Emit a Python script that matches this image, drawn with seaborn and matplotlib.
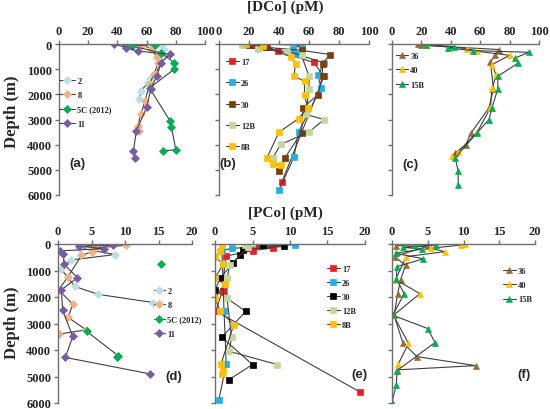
import matplotlib
matplotlib.use("Agg")
import numpy as np
import seaborn as sns
import matplotlib.pyplot as plt

# ---- data: [DCo] (pM) profiles, top row -----------------------------------
a_2_x = [70, 72, 71, 70, 66, 62, 61, 56, 55]
a_2_z = [50, 200, 450, 750, 1200, 1400, 1550, 1860, 2190]
a_8_x = [57, 63, 67, 68, 65, 62, 59, 56, 54, 55]
a_8_z = [20, 200, 500, 750, 1200, 1600, 2250, 2800, 3250, 3450]
a_5c_x = [45, 66, 50, 70, 79, 79, 62, 76, 77, 80, 71]
a_5c_z = [0, 20, 80, 350, 750, 1000, 1750, 3050, 3300, 4200, 4250]
a_11_x = [38, 46, 54, 76, 70, 67, 63, 60, 53, 51, 52]
a_11_z = [0, 150, 280, 410, 740, 1270, 1770, 2520, 3450, 4240, 4540]

b_17_x = [22, 32, 39, 63, 70, 42]
b_17_z = [50, 100, 290, 730, 1280, 5470]
b_26_x = [28, 55, 49, 51, 70, 66, 68, 53, 50, 40]
b_26_z = [0, 50, 180, 390, 750, 1250, 1740, 3500, 4490, 5800]
b_30_x = [20, 31, 55, 74, 69, 69, 66, 56, 55, 44, 40]
b_30_z = [30, 130, 250, 420, 780, 1260, 2010, 2530, 3520, 4520, 5060]
b_12b_x = [15, 26, 45, 55, 60, 60, 58, 70, 60, 41, 36]
b_12b_z = [50, 210, 300, 450, 1280, 1780, 2800, 3000, 3500, 3990, 4520]
b_8b_x = [18, 29, 48, 51, 50, 57, 57, 59, 53, 40, 32, 36, 41]
b_8b_z = [0, 90, 500, 780, 1280, 1480, 2010, 2530, 2970, 3500, 4520, 4780, 4810]

c_36_x = [18, 20, 73, 70, 67, 69, 66, 54, 50, 43]
c_36_z = [0, 50, 220, 420, 730, 1780, 2530, 3520, 4020, 4320]
c_40_x = [24, 51, 58, 80, 68, 71, 68, 67, 58, 45, 41]
c_40_z = [50, 180, 290, 450, 820, 1250, 1740, 2530, 3500, 4290, 4450]
c_15b_x = [23, 42, 38, 55, 93, 84, 86, 72, 72, 68, 66, 58, 43, 45, 45]
c_15b_z = [20, 100, 160, 260, 330, 550, 750, 1280, 1780, 2530, 3000, 3520, 4520, 5050, 5600]

# ---- data: [PCo] (pM) profiles, bottom row --------------------------------
d_2_x = [5.9, 3.2, 8.5, 2.0, 0.5, 2.5, 6.0, 14.2]
d_2_z = [0, 150, 400, 600, 950, 1600, 1900, 2210]
d_8_x = [10.1, 5.5, 5.0, 3.5, 1.5, 0.1, 2.2, 1.5, 4.2, 0.1]
d_8_z = [50, 150, 300, 430, 1230, 1730, 2270, 2770, 3240, 3400]
d_5c_x = [4.3, 9.0, 8.8]
d_5c_z = [3300, 4220, 4280]
d_5c_lone_x = [15.3]
d_5c_lone_z = [765]
d_11_x = [8.2, 3.1, 6.8, 0.3, 0.8, 0.9, 2.9, 0.5, 0.7, 2.2, 1.1, 13.7]
d_11_z = [50, 80, 175, 260, 390, 765, 1270, 1730, 2500, 3490, 4280, 4900]

e_17_x = [5.8, 7.7, 5.0, 1.4, 1.0, 0.1, 19.3]
e_17_z = [0, 150, 250, 460, 1770, 2530, 5580]
e_26_x = [10.7, 2.2, 0.9, 1.0, 1.2, 1.5, 0.5]
e_26_z = [25, 165, 250, 755, 2520, 4530, 5900]
e_30_x = [6.4, 9.2, 3.7, 3.3, 2.4, 0.7, 0.0, 4.1, 0.9, 5.0, 1.8]
e_30_z = [25, 90, 215, 415, 720, 1280, 1740, 2540, 3520, 4550, 5130]
e_12b_x = [4.0, 4.4, 2.0, 1.6, 1.6, 2.2, 1.9, 8.3]
e_12b_z = [25, 125, 790, 1280, 2040, 3520, 4050, 4550]
e_8b_x = [0.9, 0.7, 0.0, 1.1, 0.0, 1.3, 0.0, 0.7, 2.5, 0.8, 1.1, 0.9]
e_8b_z = [25, 280, 480, 755, 1280, 1510, 2040, 2540, 3040, 4530, 4780, 4900]

f_36_x = [0.5, 4.9, 0.4, 1.9, 1.2, 0.8, 0.3, 1.5, 3.5, 11.7, 0.7]
f_36_z = [60, 90, 475, 810, 1350, 1875, 2690, 3720, 4250, 4590, 4750]
f_40_x = [10.2, 9.6, 5.5, 7.4, 2.0, 0.5, 3.9, 0.2, 2.3, 0.9, 0.7]
f_40_z = [0, 40, 160, 290, 475, 1340, 1875, 2690, 3750, 4520, 4810]
f_15b_x = [3.2, 6.2, 1.5, 4.2, 0.5, 4.4, 0.7, 0.6, 1.7, 0.1, 5.0, 6.0, 0.7, 0.6, 0.0]
f_15b_z = [20, 40, 125, 190, 350, 560, 850, 1310, 1875, 2690, 3190, 3720, 4780, 5310, 5975]

depth_ticks = [0, 1000, 2000, 3000, 4000, 5000, 6000]

# colours
C_2 = "#b9dfe9"
C_8 = "#f6b07f"
C_GREEN = "#00b050"
C_11 = "#7a5aa8"
C_RED = "#ee1c24"
C_BLUE = "#1fb0ea"
C_30 = "#7b3f0b"
C_12B = "#c4d79b"
C_GOLD = "#ffc000"
C_36 = "#9c6a34"
LINE = "#3f3f3f"
AXC = "#6f6f6f"

sns.set_style("ticks")
plt.rcParams['font.family'] = ['Liberation Serif', 'DejaVu Serif']

W, H = 550, 410
fig = plt.figure(figsize=(5.5, 4.1), dpi=100)


def px_axes(x0, x1, y0, y1):
    return fig.add_axes([x0 / W, 1 - y1 / H, (x1 - x0) / W, (y1 - y0) / H])


def profile(ax, x, z, color, marker, ms, label=None, line=True):
    sns.lineplot(x=x, y=z, ax=ax, sort=False, estimator=None, label=label,
                 color=LINE if line else "none", linewidth=0.8,
                 marker=marker, markersize=ms, markerfacecolor=color,
                 markeredgecolor=color, markeredgewidth=0.5)


def style_axes(ax, xmax, xstep, ylabels):
    ax.set_xlim(0, xmax)
    ax.set_ylim(6000, 0)
    ax.set_xticks(np.arange(0, xmax + 0.1, xstep))
    ax.set_yticks(depth_ticks)
    ax.xaxis.tick_top()
    ax.set_xlabel("")
    ax.set_ylabel("")
    for s in ["right", "bottom"]:
        ax.spines[s].set_visible(False)
    for s in ["left", "top"]:
        ax.spines[s].set_color(AXC)
        ax.spines[s].set_linewidth(1)
    ax.tick_params(axis="both", direction="out", length=3, width=1,
                   color=AXC, labelsize=9, pad=2)
    for t in ax.get_xticklabels() + ax.get_yticklabels():
        t.set_fontweight("bold")
    if not ylabels:
        ax.set_yticklabels([])


def legend_at(ax, x, y, spacing, hlen):
    ax.legend(loc="upper left", bbox_to_anchor=(x / W, 1 - y / H),
              bbox_transform=fig.transFigure, frameon=False,
              prop={"family": "Liberation Serif", "weight": "bold", "size": 6},
              borderpad=0, borderaxespad=0, labelspacing=spacing,
              handlelength=hlen, handletextpad=0.3, numpoints=1)


def panel_tag(ax, x, y, s):
    fig.text(x / W, 1 - y / H, s, ha="center", va="center",
             fontsize=9.5, fontweight="bold", family="Liberation Sans")


# (a)
ax = px_axes(59, 205, 45, 196)
profile(ax, a_2_x, a_2_z, C_2, "D", 4, "2")
profile(ax, a_8_x, a_8_z, C_8, "D", 4, "8")
profile(ax, a_5c_x, a_5c_z, C_GREEN, "D", 4, "5C (2012)")
profile(ax, a_11_x, a_11_z, C_11, "D", 4, "11")
style_axes(ax, 100, 20, True)
legend_at(ax, 59, 78, 0.75, 1.9)
panel_tag(ax, 77, 164, "(a)")

# (b)
ax = px_axes(219, 369, 45, 196)
profile(ax, b_17_x, b_17_z, C_RED, "s", 4, "17")
profile(ax, b_26_x, b_26_z, C_BLUE, "s", 4, "26")
profile(ax, b_30_x, b_30_z, C_30, "s", 4, "30")
profile(ax, b_12b_x, b_12b_z, C_12B, "s", 4, "12B")
profile(ax, b_8b_x, b_8b_z, C_GOLD, "s", 4, "8B")
style_axes(ax, 100, 20, False)
legend_at(ax, 226, 59, 1.6, 1.5)
panel_tag(ax, 228, 164, "(b)")

# (c)
ax = px_axes(392, 539, 45, 196)
profile(ax, c_36_x, c_36_z, C_36, "^", 4.5, "36")
profile(ax, c_40_x, c_40_z, C_GOLD, "^", 4.5, "40")
profile(ax, c_15b_x, c_15b_z, C_GREEN, "^", 4.5, "15B")
style_axes(ax, 100, 20, False)
legend_at(ax, 396, 53, 0.75, 1.4)
panel_tag(ax, 410, 165, "(c)")

# (d)
ax = px_axes(58, 192, 245, 404)
profile(ax, d_2_x, d_2_z, C_2, "D", 4, "2")
profile(ax, d_8_x, d_8_z, C_8, "D", 4, "8")
profile(ax, d_5c_x, d_5c_z, C_GREEN, "D", 4, "5C (2012)")
profile(ax, d_5c_lone_x, d_5c_lone_z, C_GREEN, "D", 4, None, line=False)
profile(ax, d_11_x, d_11_z, C_11, "D", 4, "11")
style_axes(ax, 20, 5, True)
legend_at(ax, 154, 288, 0.75, 1.3)
panel_tag(ax, 174, 377, "(d)")

# (e)
ax = px_axes(215, 365, 245, 404)
profile(ax, e_17_x, e_17_z, C_RED, "s", 4, "17")
profile(ax, e_26_x, e_26_z, C_BLUE, "s", 4, "26")
profile(ax, e_30_x, e_30_z, "#000000", "s", 4, "30")
profile(ax, e_12b_x, e_12b_z, C_12B, "s", 4, "12B")
profile(ax, e_8b_x, e_8b_z, C_GOLD, "s", 4, "8B")
style_axes(ax, 20, 5, False)
legend_at(ax, 327, 266, 0.72, 1.5)
panel_tag(ax, 359, 375, "(e)")

# (f)
ax = px_axes(392, 535, 245, 404)
profile(ax, f_36_x, f_36_z, C_36, "^", 4.5, "36")
profile(ax, f_40_x, f_40_z, C_GOLD, "^", 4.5, "40")
profile(ax, f_15b_x, f_15b_z, C_GREEN, "^", 4.5, "15B")
style_axes(ax, 20, 5, False)
legend_at(ax, 503, 268, 0.75, 1.5)
panel_tag(ax, 524, 375, "(f)")

# shared labels
fig.text(285 / W, 1 - 7 / H, "[DCo] (pM)", ha="center", va="center",
         fontsize=11, fontweight="bold")
fig.text(285 / W, 1 - 213 / H, "[PCo] (pM)", ha="center", va="center",
         fontsize=11, fontweight="bold")
fig.text(12 / W, 1 - 112 / H, "Depth (m)", ha="center", va="center",
         rotation=90, fontsize=12, fontweight="bold")
fig.text(12 / W, 1 - 323 / H, "Depth (m)", ha="center", va="center",
         rotation=90, fontsize=12, fontweight="bold")

fig.savefig("out.png", dpi=100, facecolor="white")
